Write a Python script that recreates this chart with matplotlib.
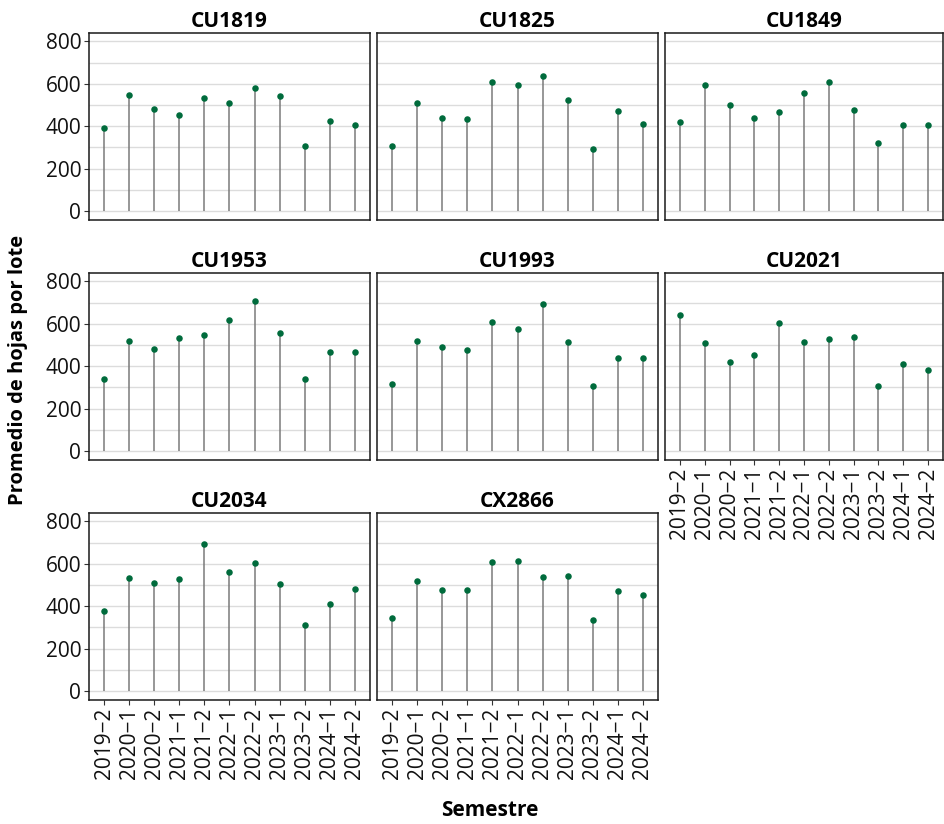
import matplotlib.pyplot as plt

plt.rcParams['font.family'] = ['Open Sans', 'DejaVu Sans']

semestres = ["2019\u22122", "2020\u22121", "2020\u22122", "2021\u22121", "2021\u22122",
             "2022\u22121", "2022\u22122", "2023\u22121", "2023\u22122", "2024\u22121", "2024\u22122"]

cu1819 = [392, 546, 483, 455, 534, 510, 580, 545, 307, 424, 408]
cu1825 = [309, 510, 441, 433, 611, 595, 636, 526, 293, 471, 409]
cu1849 = [420, 597, 499, 441, 468, 559, 609, 477, 321, 408, 406]
cu1953 = [342, 517, 480, 534, 548, 616, 710, 556, 342, 466, 469]
cu1993 = [318, 518, 491, 476, 609, 576, 696, 513, 307, 439, 439]
cu2021 = [644, 510, 419, 454, 602, 515, 528, 539, 307, 409, 384]
cu2034 = [376, 535, 512, 531, 696, 562, 602, 507, 313, 411, 482]
cx2866 = [346, 518, 479, 479, 611, 613, 539, 543, 334, 474, 452]

clones = ["CU1819", "CU1825", "CU1849", "CU1953", "CU1993", "CU2021", "CU2034", "CX2866"]
valores = [cu1819, cu1825, cu1849, cu1953, cu1993, cu2021, cu2034, cx2866]

W, H = 944, 824
fig = plt.figure(figsize=(W / 100, H / 100), dpi=100)

# panel boxes in pixels (left, right) and (top, bottom)
cols = [(89, 370), (377, 658), (665, 943)]
rows = [(33, 220), (273, 460), (513, 700)]

x = list(range(len(semestres)))
verde = "#006b3c"

for i, (nombre, vals) in enumerate(zip(clones, valores)):
    r, c = divmod(i, 3)
    (x0, x1), (y0, y1) = cols[c], rows[r]
    ax = fig.add_axes([x0 / W, 1 - y1 / H, (x1 - x0) / W, (y1 - y0) / H])
    ax.vlines(x, 0, vals, color="#7a7a7a", linewidth=1.1, zorder=2)
    ax.scatter(x, vals, s=22, color=verde, zorder=3, linewidths=0)
    ax.set_xlim(-0.6, 10.6)
    ax.set_ylim(-42, 840)
    ax.set_yticks([0, 200, 400, 600, 800])
    ax.set_yticks(range(100, 800, 200), minor=True)
    ax.grid(axis="y", which="both", color="#dcdcdc", linewidth=1.0, zorder=0)
    ax.set_axisbelow(True)
    ax.set_title(nombre, fontsize=15, fontweight="bold", pad=4)
    for s in ax.spines.values():
        s.set_color("#1a1a1a")
        s.set_linewidth(1.1)
    ax.tick_params(axis="y", which="minor", length=0)
    ax.tick_params(axis="both", which="major", length=3.5, color="#333333",
                   labelsize=15, labelcolor="#111111", width=0.8, pad=2)
    if c == 0:
        ax.set_yticklabels(["0", "200", "400", "600", "800"])
    else:
        ax.tick_params(axis="y", which="major", length=0, labelleft=False)
    ax.set_xticks(x)
    if i >= 5:
        ax.set_xticklabels(semestres, rotation=90)
    else:
        ax.set_xticklabels([])
        ax.tick_params(axis="x", length=0)

fig.text(18 / W, 1 - 370 / H, "Promedio de hojas por lote", rotation=90,
         ha="center", va="center", fontsize=14.5, fontweight="bold")
fig.text(490 / W, 1 - 810 / H, "Semestre", ha="center", va="center",
         fontsize=15, fontweight="bold")

fig.savefig("out.png", dpi=100)
